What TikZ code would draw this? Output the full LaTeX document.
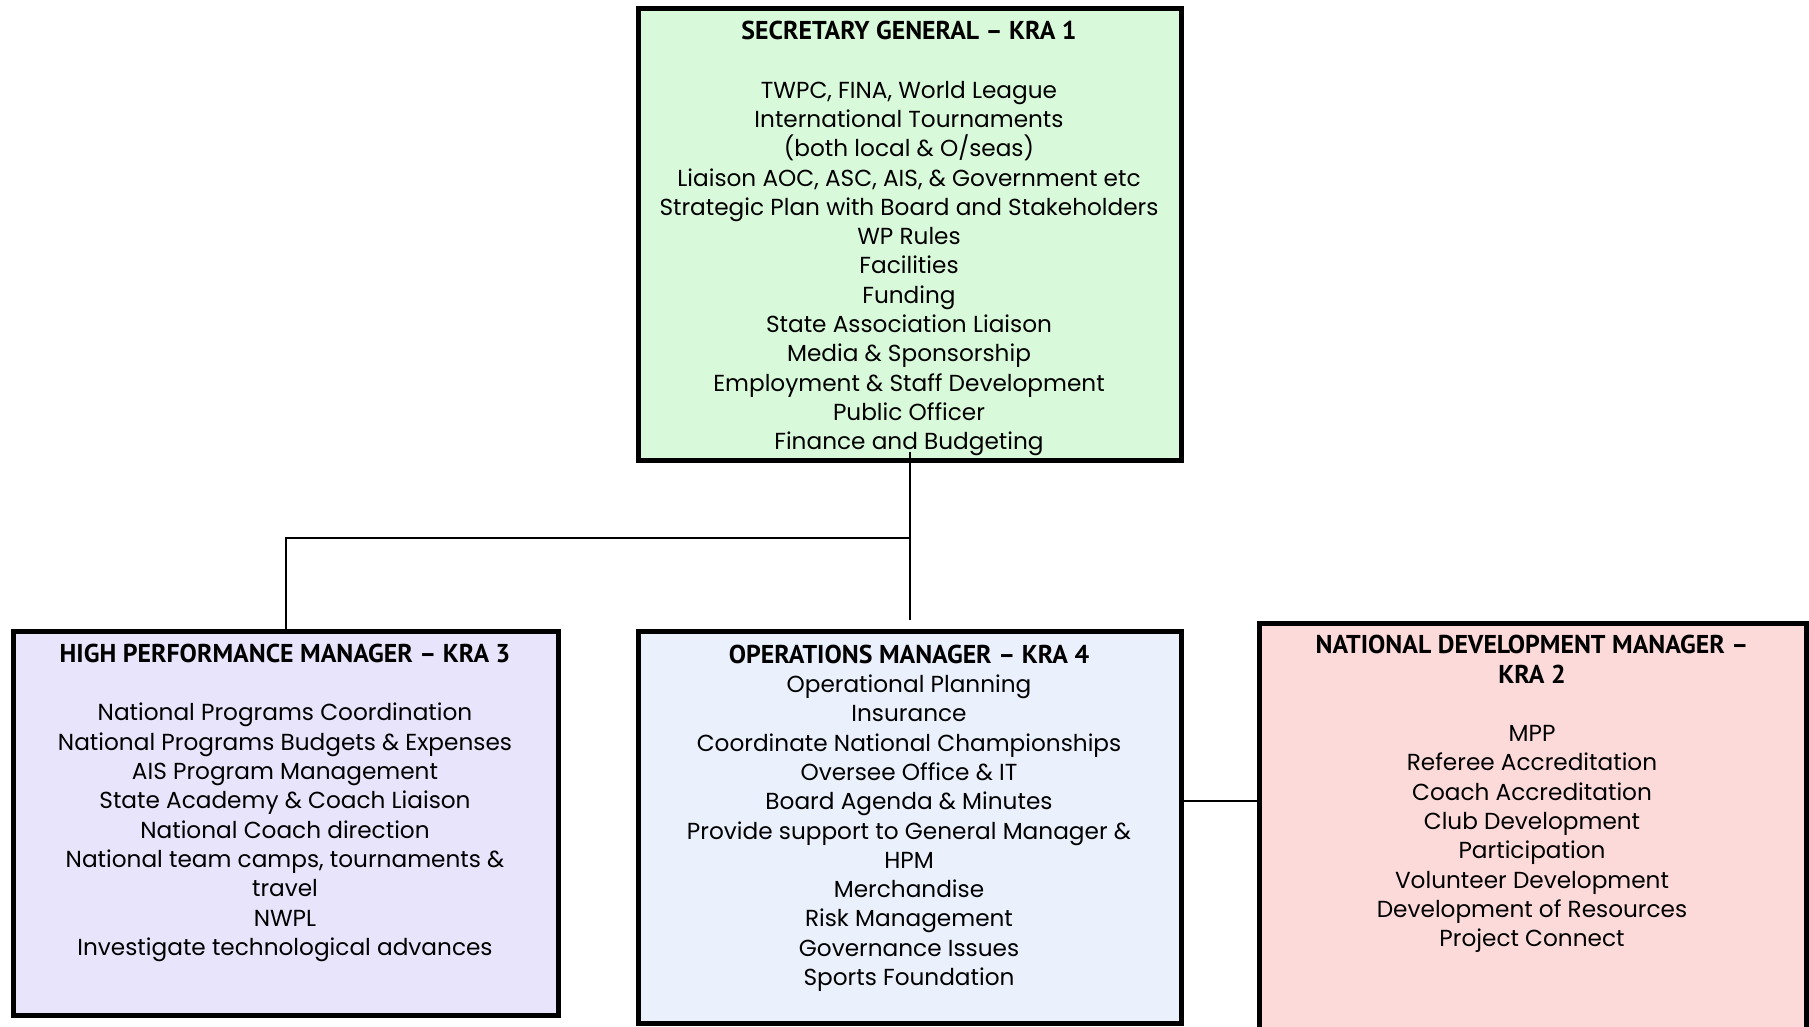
\documentclass[tikz,border=0pt]{standalone}
\usepackage{fontspec}
\setmainfont{Poppins}
\newfontfamily\ttlfont{PT Sans}
\usetikzlibrary{calc}
\definecolor{sgfill}{HTML}{D9FADA}
\definecolor{hpmfill}{HTML}{E8E4FB}
\definecolor{opsfill}{HTML}{EAF1FD}
\definecolor{ndmfill}{HTML}{FDDADA}
\newcommand\bodyfnt{\fontsize{23.2}{29.3}\selectfont}
\newcommand\ttl[1]{{\ttlfont\bfseries\fontsize{25.8}{29.3}\selectfont #1}}
\begin{document}
\begin{tikzpicture}[x=1pt,y=-1pt,
  box/.style={draw=black, line width=5pt, inner sep=0pt},
  conn/.style={draw=black, line width=2pt},
  txt/.style={align=center, inner sep=0pt, font=\bodyfnt, text=black}]
\useasboundingbox (0,0) rectangle (1809,1026);
\clip (0,0) rectangle (1809,1026);
\fill[white] (0,0) rectangle (1809,1026);
% boxes
\node[box, fill=sgfill, minimum width=543pt, minimum height=452pt] (sg) at (910,234.5) {};
\node[box, fill=hpmfill, minimum width=544.5pt, minimum height=384pt] (hpm) at (286,823.5) {};
\node[box, fill=opsfill, minimum width=543pt, minimum height=392pt] (ops) at (910,827.5) {};
\node[box, fill=ndmfill, minimum width=546.5pt, minimum height=424pt] (ndm) at (1533,835.5) {};
% texts
\node[txt] (sgt) at (909,238.75) {\strut\ttl{SECRETARY GENERAL – KRA 1}\\[29.3pt]
TWPC, FINA, World League\\
International Tournaments\\
(both local \& O/seas)\\
Liaison AOC, ASC, AIS, \& Government etc\\
Strategic Plan with Board and Stakeholders\\
WP Rules\\
Facilities\\
Funding\\
State Association Liaison\\
Media \& Sponsorship\\
Employment \& Staff Development\\
Public Officer\\
Finance and Budgeting\strut};
\node[txt] (hpmt) at (285,803) {\strut\ttl{HIGH PERFORMANCE MANAGER – KRA 3}\\[29.3pt]
National Programs Coordination\\
National Programs Budgets \& Expenses\\
AIS Program Management\\
State Academy \& Coach Liaison\\
National Coach direction\\
National team camps, tournaments \&\\
travel\\
NWPL\\
Investigate technological advances\strut};
\node[txt] (opst) at (909,818.5) {\strut\ttl{OPERATIONS MANAGER – KRA 4}\\
Operational Planning\\
Insurance\\
Coordinate National Championships\\
Oversee Office \& IT\\
Board Agenda \& Minutes\\
Provide support to General Manager \&\\
HPM\\
Merchandise\\
Risk Management\\
Governance Issues\\
Sports Foundation\strut};
\node[txt] (ndmt) at (1532,794.4) {\strut\ttl{NATIONAL DEVELOPMENT MANAGER –}\\
\ttl{KRA 2}\\[29.3pt]
MPP\\
Referee Accreditation\\
Coach Accreditation\\
Club Development\\
Participation\\
Volunteer Development\\
Development of Resources\\
Project Connect\strut};
% connectors
\coordinate (jx) at (910,538);
\coordinate (jy) at (1220,800.7);
\draw[conn] ($(sg.south)+(0,-11)$) -- ($(ops.north)+(0,-9)$);
\draw[conn] (jx) -| (hpm.north);
\draw[conn] (ops.east |- jy) -- (ndm.west |- jy);
\end{tikzpicture}
\end{document}
